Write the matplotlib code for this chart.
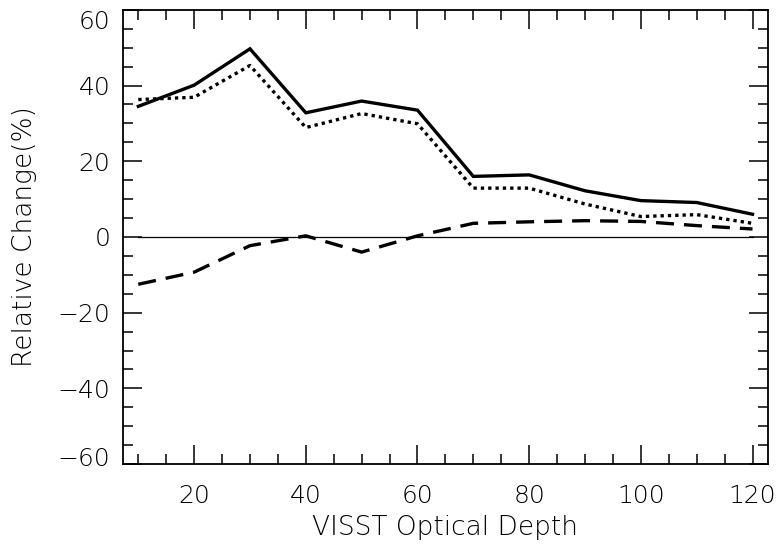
import matplotlib
matplotlib.use("Agg")
import matplotlib.pyplot as plt
import matplotlib.transforms as mtransforms
from matplotlib.ticker import MultipleLocator

depth = [10, 20, 30, 40, 50, 60, 70, 80, 90, 100, 110, 120]
solid_vals = [34.5, 40.1, 49.7, 32.8, 35.9, 33.5, 16.0, 16.4, 12.2, 9.6, 9.1, 6.0]
dotted_vals = [36.3, 36.9, 45.3, 28.9, 32.6, 29.9, 12.9, 12.9, 8.7, 5.4, 5.9, 3.6]
dashed_vals = [-12.5, -9.3, -2.3, 0.3, -4.0, 0.3, 3.6, 4.0, 4.3, 4.1, 3.0, 2.1]

plt.rcParams['font.family'] = ['DejaVu Sans']
plt.rcParams['font.weight'] = 'light'
fig = plt.figure(figsize=(7.78, 5.46), dpi=100)
ax = fig.add_axes([0.158, 0.150, 0.829, 0.832])

ax.plot([depth[0], depth[-1]], [0, 0], color='black', lw=0.9)
ax.plot(depth, solid_vals, color='black', lw=2.4, solid_joinstyle='miter')
ax.plot(depth, dotted_vals, color='black', lw=2.4, linestyle=(0, (1.0, 1.2)))
ax.plot(depth, dashed_vals, color='black', lw=2.4, linestyle=(0, (5.4, 3.0)))

ax.set_xlim(7.25, 122.75)
ax.set_ylim(-60, 60)
ax.xaxis.set_major_locator(MultipleLocator(20))
ax.xaxis.set_minor_locator(MultipleLocator(5))
ax.yaxis.set_major_locator(MultipleLocator(20))
ax.yaxis.set_minor_locator(MultipleLocator(5))
ax.tick_params(which='both', direction='in', top=True, right=True, width=1.1,
               labelsize=18, colors='black')
ax.tick_params(which='major', length=14)
ax.tick_params(axis='x', which='major', pad=14)
ax.tick_params(axis='y', which='major', pad=9)
ax.tick_params(which='minor', length=7)
for s in ax.spines.values():
    s.set_linewidth(1.3)

# shift the end y tick labels inward, as in the reference
yticks = ax.yaxis.get_major_ticks()
locs = ax.yaxis.get_majorticklocs()
for t, v in zip(yticks, locs):
    if abs(v - 60) < 1e-6:
        t.label1.set_transform(t.label1.get_transform() +
                               mtransforms.ScaledTranslation(0, -0.10, fig.dpi_scale_trans))
    elif abs(v + 60) < 1e-6:
        t.label1.set_transform(t.label1.get_transform() +
                               mtransforms.ScaledTranslation(0, 0.08, fig.dpi_scale_trans))

fig.text(445 / 778, 1 - 527 / 546, 'VISST Optical Depth', fontsize=19,
         ha='center', va='center', fontweight='light')
fig.text(25 / 778, 1 - 237 / 546, 'Relative Change(%)', fontsize=19,
         ha='center', va='center', rotation=90, fontweight='light')

fig.savefig('out.png', dpi=100)
